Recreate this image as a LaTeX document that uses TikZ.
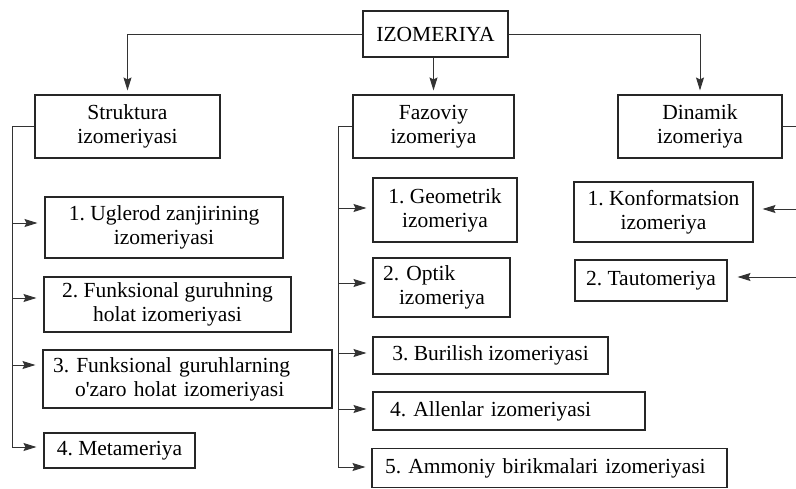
\documentclass[tikz,border=0pt]{standalone}
\usepackage{fontspec}
\setmainfont{Liberation Serif}
\usetikzlibrary{arrows.meta,calc}
\begin{document}
\frenchspacing
\begin{tikzpicture}[x=1pt,y=-1pt,
  box/.style={draw=black!85, line width=1.1pt, inner sep=0pt, align=center,
    font=\fontsize{21.5}{24}\selectfont, text=black},
  conn/.style={draw=black!80, line width=1pt},
  arr/.style={conn, -{Stealth[length=13pt,width=8pt,inset=2pt]}, shorten >=7pt},
  arrv/.style={arr, shorten >=4pt},
]
\useasboundingbox (0,0) rectangle (796,488);
\fill[white] (0,0) rectangle (796,488);

% top level
\node[box, minimum width=145pt, minimum height=46pt] (top) at (435.5,34) {IZOMERIYA};
\node[box, minimum width=185pt, minimum height=63pt] (s) at (127.5,126.5) {Struktura\\izomeriyasi};
\node[box, minimum width=161pt, minimum height=63pt] (f) at (433.5,126.5) {Fazoviy\\izomeriya};
\node[box, minimum width=164pt, minimum height=63pt] (d) at (700,126.5) {Dinamik\\izomeriya};

% Struktura children
\node[box, minimum width=238pt, minimum height=61pt] (s1) at (164,227.5) {1. Uglerod zanjirining\\izomeriyasi};
\node[box, minimum width=247pt, minimum height=55pt] (s2) at (167.5,304.5) {2. Funksional guruhning\\holat izomeriyasi};
\node[box, align=left, minimum width=289pt, minimum height=58pt, text width=269pt, inner xsep=10pt] (s3) at (187.5,379)
  {3. Funksional guruhlarning\\\hspace*{22pt}o\textquotesingle zaro holat izomeriyasi};
\node[box, minimum width=151pt, minimum height=35pt] (s4) at (119.5,450.5) {4. Metameriya};

% Fazoviy children
\node[box, minimum width=144pt, minimum height=64pt] (f1) at (445,210) {1. Geometrik\\izomeriya};
\node[box, align=left, minimum width=137pt, minimum height=59pt, text width=117pt, inner xsep=10pt] (f2) at (441.5,287.5)
  {2. Optik\\\hspace*{16pt}izomeriya};
\node[box, minimum width=235pt, minimum height=37pt] (f3) at (490.5,355.5) {3. Burilish izomeriyasi};
\node[box, align=left, minimum width=272pt, minimum height=38pt, text width=238pt, inner xsep=17pt] (f4) at (509,411)
  {4. Allenlar izomeriyasi};
\node[box, align=left, minimum width=355pt, minimum height=39pt, text width=329pt, inner xsep=13pt] (f5) at (549.5,468)
  {5. Ammoniy birikmalari izomeriyasi};

% Dinamik children
\node[box, minimum width=179pt, minimum height=60pt] (d1) at (663.5,212) {1. Konformatsion\\izomeriya};
\node[box, minimum width=152pt, minimum height=41pt] (d2) at (651,280.5) {2. Tautomeriya};

% top connectors
\draw[arrv] (top.west) -| (s.north);
\draw[arrv] (f.north |- top.south) -- (f.north);
\draw[arrv] (top.east) -| (d.north);

% Struktura bus
\coordinate (sb1) at (12,223);
\coordinate (sb2) at (12,298);
\coordinate (sb3) at (12,365);
\coordinate (sb4) at (12,447);
\draw[conn] (s.west) -| (sb4);
\foreach \i in {1,2,3,4} { \draw[arr] (sb\i) -- (sb\i -| s\i.west); }

% Fazoviy bus
\coordinate (fb1) at (338,208);
\coordinate (fb2) at (338,283);
\coordinate (fb3) at (338,353);
\coordinate (fb4) at (338,409);
\coordinate (fb5) at (338,467);
\draw[conn] (f.west) -| (fb5);
\foreach \i in {1,2,3,4,5} { \draw[arr, shorten >=6pt] (fb\i) -- (fb\i -| f\i.west); }

% Dinamik bus
\coordinate (db1) at (797,209);
\coordinate (db2) at (797,277);
\draw[conn] (d.east) -| (db2);
\draw[arr, shorten >=9pt] (db1) -- (db1 -| d1.east);
\draw[arr, shorten >=10pt] (db2) -- (db2 -| d2.east);
\end{tikzpicture}
\end{document}
